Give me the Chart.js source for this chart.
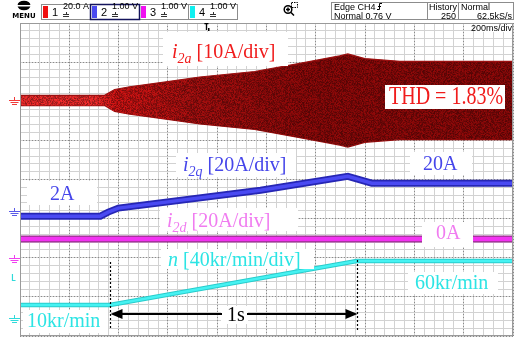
<!DOCTYPE html>
<html>
<head>
<meta charset="utf-8">
<script src="https://cdn.jsdelivr.net/npm/chart.js@4.4.0/dist/chart.umd.min.js"></script>
<style>
  html, body { margin: 0; padding: 0; background: #fff; overflow: hidden; }
  #wrap { position: relative; width: 522px; height: 342px; }
</style>
</head>
<body>
<div id="wrap"><canvas id="scope" width="522" height="342"></canvas></div>
<script>
// --- captured traces (time in ms, 200 ms/div, 10 div) ---
const i2aTime = [0, 343, 384, 445, 607, 729, 952, 1135, 1297, 1330, 1399, 1541, 2000];
const i2aPeak = [1.3, 1.3, 2.8, 3.5, 4.9, 6.0, 7.4, 9.5, 11.4, 11.9, 10.7, 10.0, 10.0]; // envelope, A

const i2qTime = [0, 326, 358, 399, 976, 1330, 1427, 2000];
const i2qAmps = [2, 2, 4.2, 6.4, 16.2, 23.8, 20, 20];

const i2dTime = [0, 2000];
const i2dAmps = [0, 0];

const speedTime = [0, 365, 1366, 2000];
const speedKrpm = [10, 10, 60, 60];

// per-channel vertical position (div) and scale (units/div)
const channels = {
  i2a: { offset: 2.02, perDiv: 10 },
  i2q: { offset: -1.03, perDiv: 21.4 },
  i2d: { offset: -1.52, perDiv: 20 },
  n:   { offset: -3.43, perDiv: 44.5 }
};

const toDiv = (ch, v) => ch.offset + v / ch.perDiv;
const points = (times, vals, ch, sign = 1) => times.map((t, i) => ({ x: t, y: toDiv(ch, sign * vals[i]) }));

const SERIF = '"Liberation Serif", "Times New Roman", serif';
const MONO = '"DejaVu Sans Mono", monospace';
const UI = '"Liberation Sans", Arial, sans-serif';

// text annotations drawn over the screen
const labels = [
  { parts: [['i', 'it'], ['2a', 'sub'], [' [10A/div]']], x: 172, y: 58, color: '#f01c1c', box: [163, 32, 125, 34] },
  { parts: [['THD = 1.83%']], x: 389, y: 104, color: '#f01c1c', box: [385, 85, 120, 24], stretch: 1.25 },
  { parts: [['i', 'it'], ['2q', 'sub'], [' [20A/div]']], x: 183, y: 171, color: '#4646ea', box: [176, 153, 120, 24] },
  { parts: [['20A']], x: 423, y: 170, color: '#4646ea', box: [410, 152, 62, 23] },
  { parts: [['2A']], x: 50, y: 200, color: '#4646ea', box: [27, 181, 70, 24] },
  { parts: [['i', 'it'], ['2d', 'sub'], [' [20A/div]']], x: 167, y: 227, color: '#f07cf0', box: [160, 208, 138, 23] },
  { parts: [['0A']], x: 436, y: 239, color: '#f07cf0', box: [422, 222, 51, 25] },
  { parts: [['n', 'it'], [' [40kr/min/div]']], x: 168, y: 266, color: '#2ce4e4', box: [161, 249, 153, 20] },
  { parts: [['60kr/min']], x: 415, y: 289, color: '#2ce4e4', box: [408, 272, 90, 22] },
  { parts: [['10kr/min']], x: 27, y: 327, color: '#2ce4e4', box: [23, 310, 85, 23] },
  { parts: [['1s']], x: 227, y: 321, color: '#000', box: [221, 306, 27, 18] }
];

function drawRich(ctx, lb) {
  const size = 20;
  ctx.save();
  ctx.fillStyle = '#fff';
  ctx.fillRect(lb.box[0], lb.box[1], lb.box[2], lb.box[3]);
  ctx.fillStyle = lb.color;
  ctx.textBaseline = 'alphabetic';
  ctx.textAlign = 'left';
  ctx.translate(lb.x, lb.y);
  if (lb.stretch) ctx.scale(1, lb.stretch);
  let x = 0;
  lb.parts.forEach(([txt, kind]) => {
    const sub = kind === 'sub';
    ctx.font = `${kind ? 'italic ' : ''}${sub ? 14 : size}px ${SERIF}`;
    ctx.fillText(txt, x, sub ? 5 : 0);
    x += ctx.measureText(txt).width;
  });
  ctx.restore();
}

function groundMark(ctx, y, color) {
  ctx.save();
  ctx.strokeStyle = color;
  ctx.lineWidth = 1;
  ctx.beginPath();
  ctx.moveTo(14.5, y - 5); ctx.lineTo(14.5, y - 2);
  ctx.moveTo(9, y - 1.5); ctx.lineTo(20, y - 1.5);
  ctx.moveTo(10.5, y + 0.5); ctx.lineTo(18.5, y + 0.5);
  ctx.moveTo(12, y + 2.5); ctx.lineTo(17, y + 2.5);
  ctx.stroke();
  ctx.restore();
}

function channelBox(ctx, x, w, color, num, volts, selected) {
  ctx.save();
  ctx.strokeStyle = selected ? '#14145c' : '#8c8c8c';
  ctx.lineWidth = selected ? 1.5 : 1;
  ctx.strokeRect(x + 0.5, 4.5, w, 15);
  ctx.fillStyle = color;
  ctx.fillRect(x + 2, 6, 5, 12);
  ctx.fillStyle = '#000';
  ctx.font = `11px ${UI}`;
  ctx.fillText(num, x + 11, 16);
  ctx.font = `9px ${UI}`;
  ctx.textAlign = 'right';
  ctx.fillText(volts, x + w - 1, 9);
  // coupling icon
  ctx.strokeStyle = '#333';
  ctx.lineWidth = 1;
  ctx.beginPath();
  ctx.moveTo(x + 22, 14.5); ctx.lineTo(x + 28, 14.5);
  ctx.moveTo(x + 22, 16.5); ctx.lineTo(x + 28, 16.5);
  ctx.moveTo(x + 25.5, 12); ctx.lineTo(x + 25.5, 14);
  ctx.stroke();
  ctx.restore();
}

const scopeDecor = {
  id: 'scopeDecor',
  afterDatasetsDraw(chart) {
    const { ctx, chartArea: a, scales } = chart;
    const xs = scales.x, ys = scales.y;

    // ramp markers
    const x0 = Math.round(xs.getPixelForValue(speedTime[1])) + 0.5;
    const x1 = Math.round(xs.getPixelForValue(speedTime[2])) + 0.5;
    const top = ys.getPixelForValue(toDiv(channels.n, speedKrpm[2]));
    ctx.save();
    ctx.strokeStyle = '#000';
    ctx.lineWidth = 1.2;
    ctx.setLineDash([2, 2]);
    ctx.beginPath();
    ctx.moveTo(x0, top + 1); ctx.lineTo(x0, 330);
    ctx.moveTo(x1, top - 1); ctx.lineTo(x1, 330);
    ctx.stroke();
    ctx.restore();

    labels.forEach(lb => drawRich(ctx, lb));

    // 1 s span arrow
    const ay = 314;
    ctx.save();
    ctx.strokeStyle = '#000';
    ctx.fillStyle = '#000';
    ctx.lineWidth = 2;
    ctx.beginPath();
    ctx.moveTo(x0 + 10, ay); ctx.lineTo(222, ay);
    ctx.moveTo(247, ay); ctx.lineTo(x1 - 10, ay);
    ctx.stroke();
    ctx.beginPath();
    ctx.moveTo(x0, ay); ctx.lineTo(x0 + 12, ay - 5); ctx.lineTo(x0 + 12, ay + 5); ctx.closePath();
    ctx.moveTo(x1, ay); ctx.lineTo(x1 - 12, ay - 5); ctx.lineTo(x1 - 12, ay + 5); ctx.closePath();
    ctx.fill();
    ctx.restore();

    // channel ground markers
    groundMark(ctx, 102, '#f03a3a');
    groundMark(ctx, 213, '#5a5ae8');
    groundMark(ctx, 260, '#f040f0');
    groundMark(ctx, 320, '#30dada');
    ctx.save();
    ctx.fillStyle = '#30dada';
    ctx.font = `bold 8px ${MONO}`;
    ctx.fillText('L', 11, 281);
    ctx.restore();

    // frame
    ctx.save();
    ctx.strokeStyle = '#9a9a9a';
    ctx.lineWidth = 1;
    ctx.strokeRect(a.left + 0.5, a.top + 0.5, a.right - a.left - 1, a.bottom - a.top - 1);
    ctx.restore();
  },
  afterDraw(chart) {
    const { ctx } = chart;
    ctx.save();
    // MENU button
    ctx.fillStyle = '#000';
    ctx.beginPath();
    ctx.ellipse(24, 5.5, 6.5, 4.8, 0, 0, Math.PI * 2);
    ctx.fill();
    ctx.fillStyle = '#fff';
    ctx.fillRect(17, 5, 15, 1.5);
    ctx.fillStyle = '#000';
    ctx.font = `bold 7px "DejaVu Sans"`;
    ctx.textAlign = 'center';
    ctx.fillText('MENU', 24, 18);
    ctx.textAlign = 'left';

    channelBox(ctx, 41, 49, '#f01010', '1', '20.0 A', false);
    channelBox(ctx, 139, 49, '#f010f0', '3', '1.00 V', false);
    channelBox(ctx, 188, 49, '#10f0f0', '4', '1.00 V', false);
    channelBox(ctx, 90, 49, '#4a4af0', '2', '1.00 V', true);

    // zoom icon
    ctx.strokeStyle = '#000';
    ctx.lineWidth = 1.5;
    ctx.beginPath();
    ctx.arc(288, 9.5, 3.8, 0, Math.PI * 2);
    ctx.moveTo(291, 12.5); ctx.lineTo(294, 15.5);
    ctx.moveTo(286, 9.5); ctx.lineTo(290, 9.5);
    ctx.moveTo(288, 7.5); ctx.lineTo(288, 11.5);
    ctx.stroke();
    ctx.lineWidth = 1;
    ctx.setLineDash([1.5, 1]);
    ctx.strokeRect(291.5, 2.5, 6, 5);
    ctx.setLineDash([]);

    // trigger / history / sampling boxes
    ctx.strokeStyle = '#8c8c8c';
    ctx.strokeRect(331.5, 2.5, 96, 17);
    ctx.strokeRect(427.5, 2.5, 31, 17);
    ctx.strokeRect(458.5, 2.5, 55, 17);
    ctx.fillStyle = '#000';
    ctx.font = `9px ${UI}`;
    ctx.fillText('Edge CH4', 334, 10);
    ctx.fillText('Normal 0.76 V', 334, 18.5);
    ctx.fillText('History', 429, 10);
    ctx.fillText('Normal', 461, 10);
    ctx.textAlign = 'right';
    ctx.fillText('250', 456, 18.5);
    ctx.fillText('62.5kS/s', 512, 18.5);
    // rising-edge glyph
    ctx.strokeStyle = '#000';
    ctx.beginPath();
    ctx.moveTo(377, 9.5); ctx.lineTo(379.5, 9.5); ctx.lineTo(379.5, 3.5); ctx.lineTo(382, 3.5);
    ctx.moveTo(378, 6.5); ctx.lineTo(381, 6.5);
    ctx.stroke();

    // time base readout and trigger position
    ctx.fillStyle = '#fff';
    ctx.fillRect(475, 24, 37, 8);
    ctx.fillStyle = '#000';
    ctx.fillText('200ms/div', 512, 31);
    ctx.textAlign = 'left';
    ctx.font = `bold 8px ${MONO}`;
    ctx.fillText('T', 204, 30);
    ctx.fillRect(208, 28, 1.5, 3);
    ctx.restore();
  }
};

// speckled fill for the dense phase-current envelope: bright red where the
// amplitude is small, darkening as the current grows
const envStops = [[0, 226, 40, 40], [0.1, 196, 18, 18], [0.45, 156, 14, 14], [1, 132, 8, 8]];
let envPattern = null;
function envFill(c) {
  const chart = c.chart;
  if (!chart.chartArea) return '#880808';
  if (envPattern) return envPattern;
  const xs = chart.scales.x;
  const p0 = xs.getPixelForValue(300), p1 = xs.getPixelForValue(1150);
  const w = chart.width, h = 32;
  const cv = document.createElement('canvas');
  cv.width = w; cv.height = h;
  const g = cv.getContext('2d');
  const img = g.createImageData(w, h);
  for (let x = 0; x < w; x++) {
    const t = Math.min(1, Math.max(0, (x - p0) / (p1 - p0)));
    let k = 1;
    while (k < envStops.length - 1 && envStops[k][0] < t) k++;
    const [ta, ra, ga, ba] = envStops[k - 1], [tb, rb, gb, bb] = envStops[k];
    const f = Math.min(1, Math.max(0, (t - ta) / (tb - ta)));
    const base = [ra + (rb - ra) * f, ga + (gb - ga) * f, ba + (bb - ba) * f];
    for (let y = 0; y < h; y++) {
      let n = (x * 374761393 + y * 668265263) | 0;
      n = Math.imul(n ^ (n >>> 13), 1274126177);
      const s = ((n ^ (n >>> 16)) & 255) / 255;
      const m = 0.62 + 0.5 * s;
      const i = (y * w + x) * 4;
      img.data[i] = Math.min(255, base[0] * m);
      img.data[i + 1] = Math.min(255, base[1] * m);
      img.data[i + 2] = Math.min(255, base[2] * m);
      img.data[i + 3] = 255;
    }
  }
  g.putImageData(img, 0, 0);
  envPattern = chart.ctx.createPattern(cv, 'repeat');
  return envPattern;
}

const line = (data, color, width) => ({
  data, borderColor: color, borderWidth: width, pointRadius: 0, tension: 0, fill: false
});

new Chart(document.getElementById('scope'), {
  type: 'line',
  data: {
    datasets: [
      line(points(speedTime, speedKrpm, channels.n), '#46f2f2', 2.5),
      line(points(speedTime, speedKrpm, channels.n), '#28cccc', 4.5),
      line(points(i2dTime, i2dAmps, channels.i2d), '#f232f2', 4),
      line(points(i2dTime, i2dAmps, channels.i2d), '#a8329e', 7),
      line(points(i2qTime, i2qAmps, channels.i2q), '#4a4af2', 3.5),
      line(points(i2qTime, i2qAmps, channels.i2q), '#2626b4', 7),
      Object.assign(line(points(i2aTime, i2aPeak, channels.i2a, 1), '#9c1010', 1.2), { fill: '+1', backgroundColor: envFill }),
      line(points(i2aTime, i2aPeak, channels.i2a, -1), '#9c1010', 1.2)
    ]
  },
  options: {
    responsive: false,
    animation: false,
    events: [],
    layout: { padding: { left: 20, right: 9, top: 23, bottom: 6 } },
    plugins: { legend: { display: false }, tooltip: { enabled: false } },
    scales: {
      xMinor: {
        type: 'linear', position: 'bottom', min: 0, max: 2000, z: -2,
        ticks: { display: false, stepSize: 40 },
        grid: { color: '#d2d2d2', drawTicks: false },
        border: { display: false }
      },
      yMinor: {
        type: 'linear', position: 'left', min: -4, max: 4, z: -2,
        ticks: { display: false, stepSize: 0.2 },
        grid: { color: '#d2d2d2', drawTicks: false },
        border: { display: false }
      },
      x: {
        type: 'linear', min: 0, max: 2000, z: -1,
        ticks: { display: false, stepSize: 200 },
        grid: { color: '#8a8a8a', drawTicks: false },
        border: { display: false, dash: [1, 2] }
      },
      y: {
        type: 'linear', min: -4, max: 4, z: -1,
        ticks: { display: false, stepSize: 1 },
        grid: { color: '#8a8a8a', drawTicks: false },
        border: { display: false, dash: [1, 2] }
      }
    }
  },
  plugins: [scopeDecor]
});
</script>
</body>
</html>
